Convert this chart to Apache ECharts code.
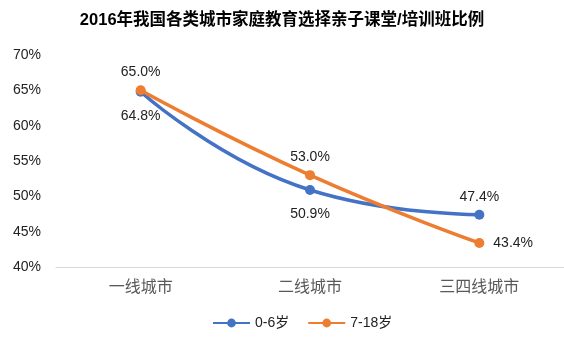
<!DOCTYPE html>
<html>
<head>
<meta charset="utf-8">
<script src="https://cdn.jsdelivr.net/npm/echarts@6/dist/echarts.min.js"></script>
<style>
html,body{margin:0;padding:0;background:#fff;}
#chart{width:564px;height:338px;}
</style>
</head>
<body>
<div id="chart"></div>
<script>
// City tiers and share of families choosing parent-child classes / training (%)
var categories = ['一线城市', '二线城市', '三四线城市'];
var age0to6 = [64.8, 50.9, 47.4];
var age7to18 = [65.0, 53.0, 43.4];
var seriesNames = ['0-6岁', '7-18岁'];

// Label placement per point
var posBlue = ['bottom', 'bottom', 'top'];
var posOrange = ['top', 'top', 'right'];

var font = '"Liberation Sans", Arial, "Noto Sans CJK SC", sans-serif';
var labelGap = { top: 6, bottom: 12, right: 9 };

function buildData(values, positions) {
  return values.map(function (v, i) {
    return { value: v, label: { position: positions[i], distance: labelGap[positions[i]] } };
  });
}

var chart = echarts.init(document.getElementById('chart'));
chart.setOption({
  animation: false,
  backgroundColor: '#fff',
  title: {
    text: '2016年我国各类城市家庭教育选择亲子课堂/培训班比例',
    left: 'center',
    top: 7,
    textStyle: { fontSize: 16.5, fontWeight: 'bold', color: '#000', fontFamily: font }
  },
  legend: {
    bottom: 3,
    left: 207,
    itemWidth: 37,
    itemHeight: 11,
    itemGap: 18,
    textStyle: { fontSize: 14, color: '#222', fontFamily: font },
    data: seriesNames
  },
  grid: { left: 56, top: 55, bottom: 71, width: 513 },
  xAxis: {
    type: 'category',
    data: categories,
    boundaryGap: true,
    axisLine: { lineStyle: { color: '#d9d9d9', width: 1 } },
    axisTick: { show: false },
    axisLabel: { fontSize: 16, color: '#595959', margin: 13, fontFamily: font }
  },
  yAxis: {
    type: 'value',
    min: 40,
    max: 70,
    interval: 5,
    axisLine: { show: false },
    axisTick: { show: false },
    splitLine: { show: false },
    axisLabel: {
      fontSize: 14, color: '#222', margin: 15, fontFamily: font,
      formatter: function (v) { return v + '%'; }
    }
  },
  series: [
    {
      name: seriesNames[0],
      type: 'line',
      smooth: true,
      symbol: 'circle',
      symbolSize: 10,
      data: buildData(age0to6, posBlue),
      itemStyle: { color: '#4472C4' },
      lineStyle: { color: '#4472C4', width: 3.5 },
      label: {
        show: true, fontSize: 14, color: '#222', fontFamily: font,
        formatter: function (p) { return p.value.toFixed(1) + '%'; }
      },
      z: 2
    },
    {
      name: seriesNames[1],
      type: 'line',
      smooth: true,
      symbol: 'circle',
      symbolSize: 10,
      data: buildData(age7to18, posOrange),
      itemStyle: { color: '#ED7D31' },
      lineStyle: { color: '#ED7D31', width: 3.5 },
      label: {
        show: true, fontSize: 14, color: '#222', fontFamily: font,
        formatter: function (p) { return p.value.toFixed(1) + '%'; }
      },
      z: 3
    }
  ]
});
</script>
</body>
</html>
